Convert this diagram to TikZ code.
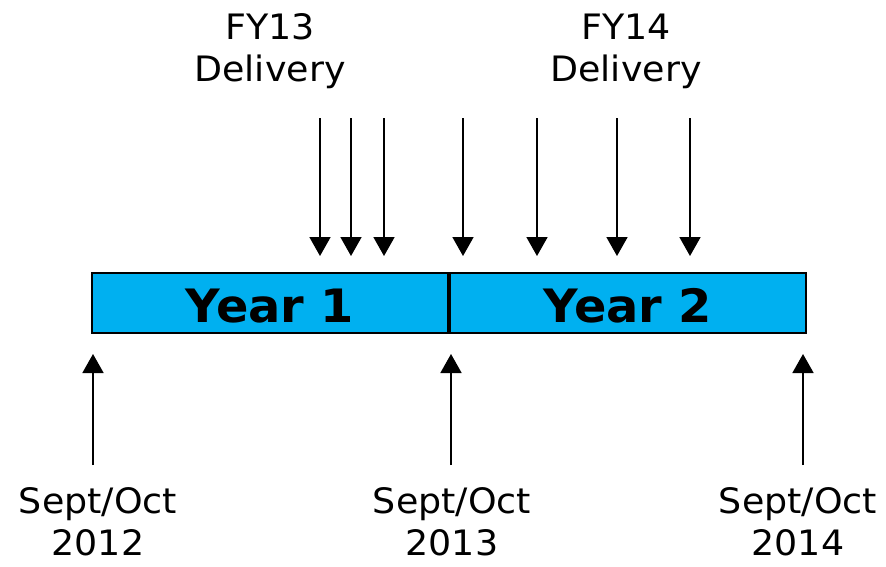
\documentclass[tikz,border=0pt]{standalone}
\usepackage{fontspec}
\setmainfont[FakeStretch=1.04]{DejaVu Sans}
\usetikzlibrary{arrows.meta}
\definecolor{barblue}{HTML}{00B0F0}

\tikzset{
  yearbox/.style={draw=black, line width=2pt, fill=barblue, minimum width=356pt,
    minimum height=60pt, inner sep=0pt, text height=39.5pt, text depth=0pt,
    font=\fontsize{46}{50}\selectfont\bfseries},
  txt/.style={align=center, inner sep=0pt, font=\fontsize{35}{42}\selectfont},
  tick/.style={-{Triangle[length=19pt,width=21pt]}, line width=1.8pt},
}

\begin{document}
\begin{tikzpicture}[x=1pt, y=-1pt]

    \useasboundingbox (0,0) rectangle (886,566);

    % Define nodes
    \node[yearbox]                 (y1) at (270,303) {Year 1};
    \node[yearbox, anchor=west]    (y2) at (y1.east) {Year 2};

    % delivery labels
    \node[txt]  (fy13) at (270,51) {FY13\\Delivery};
    \node[txt]  (fy14) at (626,51) {FY14\\Delivery};

    % start dates
    \node[txt]  (d12) at (98,522)  {Sept/Oct\\2012};
    \node[txt]  (d13) at (452,522) {Sept/Oct\\2013};
    \node[txt]  (d14) at (798,522) {Sept/Oct\\2014};

    % Connect the nodes
    \foreach \x [count=\i] in {320,351,384,463,537,617,690} {
      \coordinate (s\i) at (\x,118);
      \coordinate (e\i) at (\x,256);
      \draw[tick] (s\i) -- (e\i);
    }
    \foreach \x [count=\i] in {93,451,803} {
      \coordinate (b\i) at (\x,465);
      \coordinate (t\i) at (\x,354);
      \draw[tick] (b\i) -- (t\i);
    }

  \end{tikzpicture}
\end{document}
